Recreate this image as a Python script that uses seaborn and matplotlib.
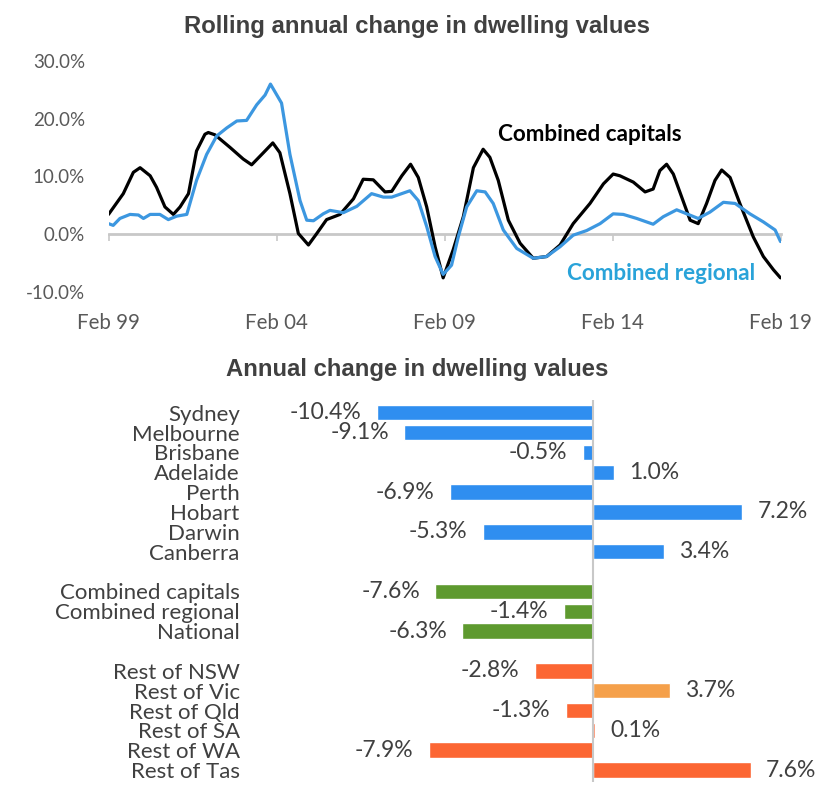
import numpy as np
import pandas as pd
import matplotlib
matplotlib.use("Agg")
import matplotlib.pyplot as plt
import seaborn as sns

# ---------------- data ----------------
cap_years = [1999.08, 1999.52, 1999.82, 2000.02, 2000.32, 2000.51, 2000.76, 2001.01, 2001.21, 2001.46,
             2001.70, 2001.95, 2002.05, 2002.25, 2002.70, 2003.09, 2003.34, 2003.69, 2003.97, 2004.18,
             2004.48, 2004.73, 2005.03, 2005.28, 2005.57, 2005.97, 2006.37, 2006.66, 2006.96, 2007.31,
             2007.51, 2007.81, 2008.07, 2008.30, 2008.55, 2008.80, 2009.04, 2009.34, 2009.64, 2009.94,
             2010.23, 2010.43, 2010.68, 2010.98, 2011.33, 2011.72, 2012.12, 2012.52, 2012.91, 2013.41,
             2013.81, 2014.10, 2014.30, 2014.70, 2015.05, 2015.29, 2015.49, 2015.69, 2015.89, 2016.14,
             2016.39, 2016.63, 2016.88, 2017.13, 2017.33, 2017.58, 2017.87, 2018.27, 2018.57, 2018.87,
             2019.08]
cap_values = [3.4, 7.0, 10.7, 11.5, 10.1, 8.1, 4.7, 3.4, 4.7, 7.0,
              14.4, 17.3, 17.6, 17.2, 15.0, 13.0, 12.0, 14.1, 15.8, 14.1,
              7.0, 0.1, -1.9, 0.1, 2.5, 3.4, 6.1, 9.5, 9.4, 7.3,
              7.4, 10.1, 12.1, 9.8, 4.7, -2.2, -7.6, -2.7, 3.0, 11.5,
              14.7, 13.3, 9.3, 2.4, -1.6, -4.2, -3.9, -1.9, 1.8, 5.3,
              8.7, 10.4, 10.1, 9.0, 7.3, 7.8, 11.0, 12.1, 10.4, 6.4,
              2.4, 1.8, 5.3, 9.3, 11.1, 9.8, 5.3, -0.5, -3.9, -6.2,
              -7.6]

reg_years = [1999.08, 1999.22, 1999.42, 1999.72, 1999.97, 2000.12, 2000.32, 2000.61, 2000.86, 2001.11,
             2001.41, 2001.70, 2002.00, 2002.30, 2002.60, 2002.90, 2003.19, 2003.49, 2003.74, 2003.90,
             2004.23, 2004.48, 2004.78, 2004.98, 2005.18, 2005.47, 2005.67, 2006.07, 2006.47, 2006.91,
             2007.26, 2007.51, 2008.05, 2008.30, 2008.55, 2008.80, 2009.04, 2009.29, 2009.49, 2009.74,
             2010.04, 2010.29, 2010.53, 2010.83, 2011.23, 2011.72, 2012.12, 2012.52, 2012.91, 2013.31,
             2013.71, 2014.10, 2014.40, 2014.80, 2015.29, 2015.59, 2015.99, 2016.29, 2016.63, 2016.98,
             2017.38, 2017.73, 2018.17, 2018.57, 2018.92, 2019.08]
reg_values = [1.8, 1.5, 2.7, 3.4, 3.3, 2.7, 3.4, 3.4, 2.5, 3.1,
              3.4, 9.3, 13.8, 17.0, 18.4, 19.6, 19.7, 22.4, 24.1, 26.0,
              22.7, 13.8, 5.8, 2.4, 2.3, 3.5, 4.1, 3.7, 4.8, 7.0,
              6.4, 6.4, 7.5, 5.8, 1.3, -3.9, -7.0, -5.4, -0.5, 4.7,
              7.5, 7.3, 5.3, 0.7, -2.5, -4.2, -3.9, -2.2, -0.2, 0.6,
              1.8, 3.5, 3.4, 2.7, 1.7, 3.0, 4.2, 3.5, 2.7, 3.8,
              5.5, 5.3, 3.5, 2.1, 0.7, -1.3]

x_tick_years = [1999.08, 2004.08, 2009.08, 2014.08, 2019.08]
x_tick_labels = ["Feb 99", "Feb 04", "Feb 09", "Feb 14", "Feb 19"]
y_ticks = [-10, 0, 10, 20, 30]

regions = ["Sydney", "Melbourne", "Brisbane", "Adelaide", "Perth", "Hobart", "Darwin", "Canberra",
           "Combined capitals", "Combined regional", "National",
           "Rest of NSW", "Rest of Vic", "Rest of Qld", "Rest of SA", "Rest of WA", "Rest of Tas"]
region_pos = [0, 1, 2, 3, 4, 5, 6, 7, 9, 10, 11, 13, 14, 15, 16, 17, 18]
region_change = [-10.4, -9.1, -0.5, 1.0, -6.9, 7.2, -5.3, 3.4,
                 -7.6, -1.4, -6.3,
                 -2.8, 3.7, -1.3, 0.1, -7.9, 7.6]

BLUE = "#2F8EF0"
GREEN = "#5E9A2F"
ORANGE = "#FC6633"
LIGHT_ORANGE = "#F5A04A"
region_colors = [BLUE] * 8 + [GREEN] * 3 + [ORANGE, LIGHT_ORANGE, ORANGE, ORANGE, ORANGE, ORANGE]

# ---------------- style ----------------
sns.set_theme(style="white")
plt.rcParams["font.family"] = ["Lato", "DejaVu Sans"]
TEXT = "#404040"
TICK = "#595959"

fig = plt.figure(figsize=(8.34, 7.98), dpi=100)

# ---------------- top line chart ----------------
ax1 = fig.add_axes([108.5 / 834, 1 - 291.7 / 798, 672 / 834, 230.7 / 798])
df_line = pd.concat([
    pd.DataFrame({"year": cap_years, "change": cap_values, "series": "Combined capitals"}),
    pd.DataFrame({"year": reg_years, "change": reg_values, "series": "Combined regional"}),
])
sns.lineplot(data=df_line, x="year", y="change", hue="series", estimator=None, sort=True,
             palette={"Combined capitals": "#000000", "Combined regional": "#3C97E0"},
             linewidth=2.3, legend=False, ax=ax1, zorder=3)
ax1.set_xlim(1999.08, 2019.08)
ax1.set_ylim(-10, 30)
ax1.set_yticks(y_ticks)
ax1.set_yticklabels([f"{v:.1f}%" for v in y_ticks])
ax1.set_xticks(x_tick_years)
ax1.set_xticklabels(x_tick_labels)
ax1.tick_params(axis="y", length=0, pad=17, labelsize=13.5, labelcolor=TICK)
ax1.tick_params(axis="x", length=0, pad=15, labelsize=14.8, labelcolor=TICK)
ax1.set_xlabel("")
ax1.set_ylabel("")
for s in ax1.spines.values():
    s.set_visible(False)
ax1.grid(False)
ax1.set_facecolor("none")

# zero axis with tick marks
sec = ax1.secondary_xaxis(0.25)
sec.set_xticks(x_tick_years)
sec.tick_params(axis="x", length=5, width=1.2, color="#C8C8C8", labelbottom=False)
for k, s in sec.spines.items():
    if k == "bottom":
        s.set_color("#C8C8C8")
        s.set_linewidth(2)
    else:
        s.set_visible(False)

ax1.text(2013.41, 17.3, "Combined capitals", color="#000000", fontsize=16.2, fontweight="bold",
         ha="center", va="center")
ax1.text(2015.52, -6.8, "Combined regional", color="#29A3D9", fontsize=16.2, fontweight="bold",
         ha="center", va="center")

fig.text(416.5 / 834, 1 - 26 / 798, "Rolling annual change in dwelling values",
         ha="center", va="center", fontsize=17.2, fontweight="bold", color=TEXT,
         family=["Liberation Sans", "DejaVu Sans"])
fig.text(417 / 834, 1 - 370 / 798, "Annual change in dwelling values",
         ha="center", va="center", fontsize=17.2, fontweight="bold", color=TEXT,
         family=["Liberation Sans", "DejaVu Sans"])

# ---------------- bottom bar chart ----------------
ax2 = fig.add_axes([280 / 834, 1 - 782 / 798, 540 / 834, 382 / 798])
df_bar = pd.DataFrame({"region": regions, "pos": region_pos, "change": region_change})
sns.barplot(data=df_bar, x="change", y="pos", hue="region", orient="h", native_scale=True,
            palette=dict(zip(regions, region_colors)), dodge=False, width=0.78,
            legend=False, ax=ax2, saturation=1, zorder=2)
ax2.set_xlim(-15.08, 10.94)
ax2.set_ylim(18.6, -0.64)
ax2.axvline(0, color="#C8C8C8", linewidth=1.5, zorder=3)
ax2.set_yticks(region_pos)
ax2.set_yticklabels(regions)
ax2.tick_params(axis="y", length=0, pad=29, labelsize=16, labelcolor=TEXT)
ax2.set_xticks([])
ax2.set_xlabel("")
ax2.set_ylabel("")
for s in ax2.spines.values():
    s.set_visible(False)
ax2.grid(False)
ax2.set_facecolor("none")
for c in ax2.containers:
    ax2.bar_label(c, fmt="{:.1f}%", padding=11, fontsize=16.5, color=TEXT)

fig.savefig("out.png", dpi=100, facecolor="white")
